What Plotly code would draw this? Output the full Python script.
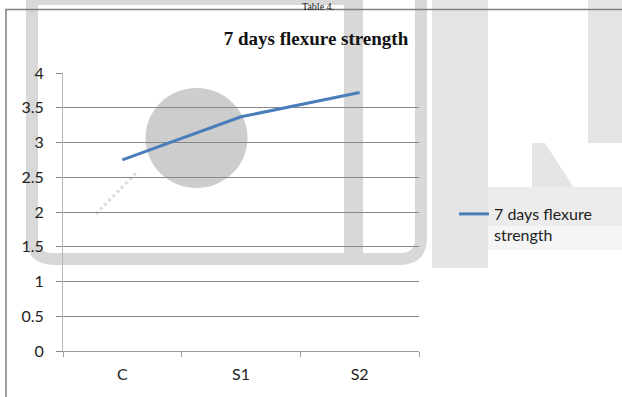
import plotly.graph_objects as go

# Chart data
categories = ["C", "S1", "S2"]
flexure_7d = [2.75, 3.37, 3.72]
series_name = "7 days flexure<br>strength"
chart_title = "7 days flexure strength"
caption = "Table 4."

W, H = 622, 397
ML, MR, MT, MB = 63, 203, 73, 46
PW, PH = W - ML - MR, H - MT - MB


def fx(x):
    """pixel x -> paper x"""
    return (x - ML) / PW


def fy(y):
    """pixel y -> paper y"""
    return (H - MB - y) / PH


def rect(x0, y0, x1, y1, color, layer="below"):
    return dict(type="rect", xref="paper", yref="paper",
                x0=fx(x0), x1=fx(x1), y0=fy(y1), y1=fy(y0),
                fillcolor=color, line=dict(width=0), layer=layer)


def poly(points, color):
    d = "M " + " L ".join(f"{fx(x):.5f},{fy(y):.5f}" for x, y in points) + " Z"
    return dict(type="path", xref="paper", yref="paper", path=d, layer="below",
                fillcolor=color, line=dict(width=0))


shapes = []
# faint background logo
shapes.append(dict(type="path", xref="paper", yref="paper", layer="below",
                   path=(f"M {fx(32):.5f},{fy(-10):.5f} L {fx(32):.5f},{fy(238):.5f} "
                         f"Q {fx(32):.5f},{fy(259):.5f} {fx(54):.5f},{fy(259):.5f} "
                         f"L {fx(400):.5f},{fy(259):.5f} "
                         f"Q {fx(421):.5f},{fy(259):.5f} {fx(421):.5f},{fy(238):.5f} "
                         f"L {fx(421):.5f},{fy(-10):.5f}"),
                   line=dict(color="#d8d8d8", width=12), fillcolor="rgba(0,0,0,0)"))
shapes.append(rect(27, -10, 363, 5, "#d8d8d8"))
shapes.append(rect(344, -10, 363, 254, "#d8d8d8"))
shapes.append(dict(type="circle", xref="paper", yref="paper", layer="below",
                   x0=fx(145.5), x1=fx(247.5), y0=fy(188), y1=fy(88),
                   fillcolor="#cdcdcd", line=dict(width=0)))
shapes.append(dict(type="line", xref="paper", yref="paper", layer="below",
                   x0=fx(96), y0=fy(214), x1=fx(136), y1=fy(173),
                   line=dict(color="#dcdcdc", width=3, dash="dot")))
shapes.append(rect(432, -10, 488, 268, "#e5e5e5"))
shapes.append(rect(588, -10, 640, 143, "#e5e5e5"))
shapes.append(poly([(532, 143), (545, 143), (574, 188), (532, 188)], "#e5e5e5"))
shapes.append(rect(488, 187, 640, 226, "#ececec"))
shapes.append(rect(488, 226, 640, 250, "#f5f5f5"))
# chart area border
shapes.append(dict(type="rect", xref="paper", yref="paper", layer="above",
                   x0=fx(6), x1=fx(640), y0=fy(420), y1=fy(9.5),
                   line=dict(color="#808080", width=1.5), fillcolor="rgba(0,0,0,0)"))

fig = go.Figure()
fig.add_trace(go.Scatter(
    x=categories, y=flexure_7d, mode="lines", name=series_name,
    line=dict(color="#4a7ebb", width=3), showlegend=True,
))

tick_font = dict(family="Lato, 'Open Sans', sans-serif", size=16, color="#222222")

fig.update_layout(
    width=W, height=H,
    margin=dict(l=ML, r=MR, t=MT, b=MB, pad=0),
    paper_bgcolor="white", plot_bgcolor="rgba(0,0,0,0)",
    showlegend=True,
    title=dict(text=chart_title, x=316 / W, y=1 - 38 / H,
               xanchor="center", yanchor="middle",
               font=dict(family="'Liberation Serif', serif", size=19,
                         color="#111111", weight="bold")),
    legend=dict(x=fx(454), y=fy(197), xanchor="left", yanchor="top",
                valign="top", bgcolor="rgba(0,0,0,0)",
                font=dict(family="Lato, 'Open Sans', sans-serif", size=16,
                          color="#222222")),
    xaxis=dict(type="category", range=[-0.5, 2.5], showgrid=False,
               showline=True, linecolor="#9c9c9c", linewidth=1,
               ticks="outside", tickson="boundaries", ticklen=5,
               tickcolor="#9c9c9c", tickfont=tick_font, ticklabelstandoff=9,
               zeroline=False, fixedrange=True),
    yaxis=dict(range=[0, 4], dtick=0.5, tick0=0, showgrid=True,
               gridcolor="#888888", gridwidth=1, showline=True,
               linecolor="#b8b8b8", linewidth=1, ticks="outside", ticklen=6,
               tickcolor="#888888", tickfont=tick_font, ticklabelstandoff=9,
               zeroline=False, fixedrange=True),
    shapes=shapes,
    annotations=[dict(text=caption, xref="paper", yref="paper",
                      x=fx(318), y=fy(0), xanchor="center", yanchor="top",
                      showarrow=False, borderpad=0,
                      font=dict(family="'Liberation Serif', serif", size=10,
                                color="#111111"))],
)

fig.write_html("out.html")
